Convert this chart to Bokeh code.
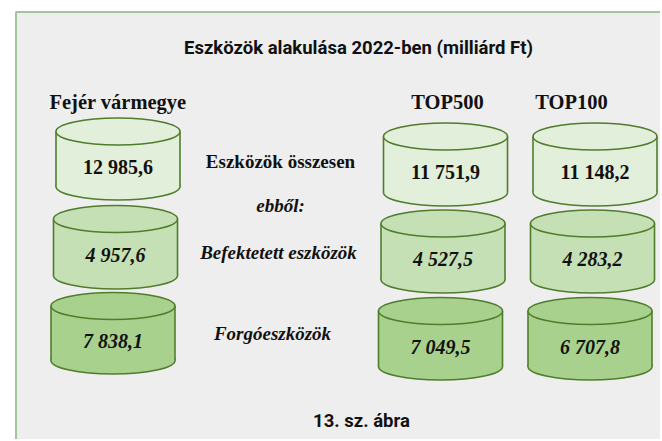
from bokeh.plotting import figure
from bokeh.models import Range1d
from bokeh.core.properties import value
from bokeh.embed import file_html
from bokeh.resources import INLINE

# ---- data ----
title = "Eszközök alakulása 2022-ben (milliárd Ft)"
caption = "13. sz. ábra"
groups = ["Fejér vármegye", "TOP500", "TOP100"]
row_labels = ["Eszközök összesen", "Befektetett eszközök", "Forgóeszközök"]
sub_label = "ebből:"
fejer = [12985.6, 4957.6, 7838.1]
top500 = [11751.9, 4527.5, 7049.5]
top100 = [11148.2, 4283.2, 6707.8]
series = [fejer, top500, top100]


def hu(v):
    s = f"{v:,.1f}"
    return s.replace(",", " ").replace(".", ",")


# ---- layout (page pixels, origin top-left) ----
W, H = 660, 439
col_cx = [117.5, 445.0, 594.5]
row_shift = [0.0, -2.5, -5.0]
row_top = {0: [131.0, 218.5, 305.5], 1: [136.0, 223.0, 310.5], 2: [136.0, 223.0, 310.5]}
row_bot = {0: [186.0, 275.0, 360.0], 1: [192.0, 279.0, 366.0], 2: [192.0, 279.0, 366.0]}
rx, ry = 62.0, 13.5
fills = ["#e2efda", "#c5e0b4", "#a9d18e"]
edge = "#4f7d2c"
serif = value("Liberation Serif")
narrow = value("Roboto")
ink = "#111111"

p = figure(width=W, height=H, output_backend="svg", toolbar_location=None,
           x_range=Range1d(0, W), y_range=Range1d(H, 0),
           min_border=0, background_fill_color="white", border_fill_color="white")
p.axis.visible = False
p.grid.visible = False
p.outline_line_color = None

# panel
p.quad(left=[15.5], right=[720], top=[11.5], bottom=[470], fill_color="#eeeeee",
       line_color="#a3c59c", line_width=2)

p.text(x=[358], y=[47], text=[title], text_font=narrow, text_font_style="bold",
       text_font_size="18.5px", text_align="center", text_baseline="middle", text_color=ink)
p.text(x=[361], y=[420], text=[caption], text_font=narrow, text_font_style="bold",
       text_font_size="18.5px", text_align="center", text_baseline="middle", text_color=ink)

# headers
hdr_x = [117.5, 447.0, 571.0]
p.text(x=hdr_x, y=[101] * 3, text=groups, text_font=serif, text_font_style="bold",
       text_font_size="20.5px", text_align="center", text_baseline="middle", text_color=ink)

# middle labels
p.text(x=[280], y=[161], text=[row_labels[0]], text_font=serif, text_font_style="bold",
       text_font_size="19px", text_align="center", text_baseline="middle", text_color=ink)
p.text(x=[280], y=[205], text=[sub_label], text_font=serif, text_font_style="bold italic",
       text_font_size="19px", text_align="center", text_baseline="middle", text_color=ink)
p.text(x=[278, 272], y=[252, 333], text=row_labels[1:], text_font=serif, text_font_style="bold italic",
       text_font_size="19px", text_align="center", text_baseline="middle", text_color=ink)

# cylinders
for c, vals in enumerate(series):
    for r, v in enumerate(vals):
        cx = col_cx[c] + row_shift[r]
        yt = row_top[c][r]
        yb = row_bot[c][r]
        p.ellipse(x=[cx], y=[yb], width=[2 * rx], height=[2 * ry], width_units="screen",
                  height_units="screen", fill_color=fills[r], line_color=edge, line_width=1.6)
        p.quad(left=[cx - rx], right=[cx + rx], top=[yt], bottom=[yb], fill_color=fills[r],
               line_color=None)
        p.segment(x0=[cx - rx, cx + rx], y0=[yt, yt], x1=[cx - rx, cx + rx], y1=[yb, yb],
                  line_color=edge, line_width=1.6)
        p.ellipse(x=[cx], y=[yt], width=[2 * rx], height=[2 * ry], width_units="screen",
                  height_units="screen", fill_color=fills[r], line_color=edge, line_width=1.6)
        p.text(x=[cx], y=[(yt + ry + yb) / 2 + 1], text=[hu(v)], text_font=serif,
               text_font_style="bold" if r == 0 else "bold italic", text_font_size="20px",
               text_align="center", text_baseline="middle", text_color=ink)

open("out.html", "w").write(file_html(p, INLINE))
